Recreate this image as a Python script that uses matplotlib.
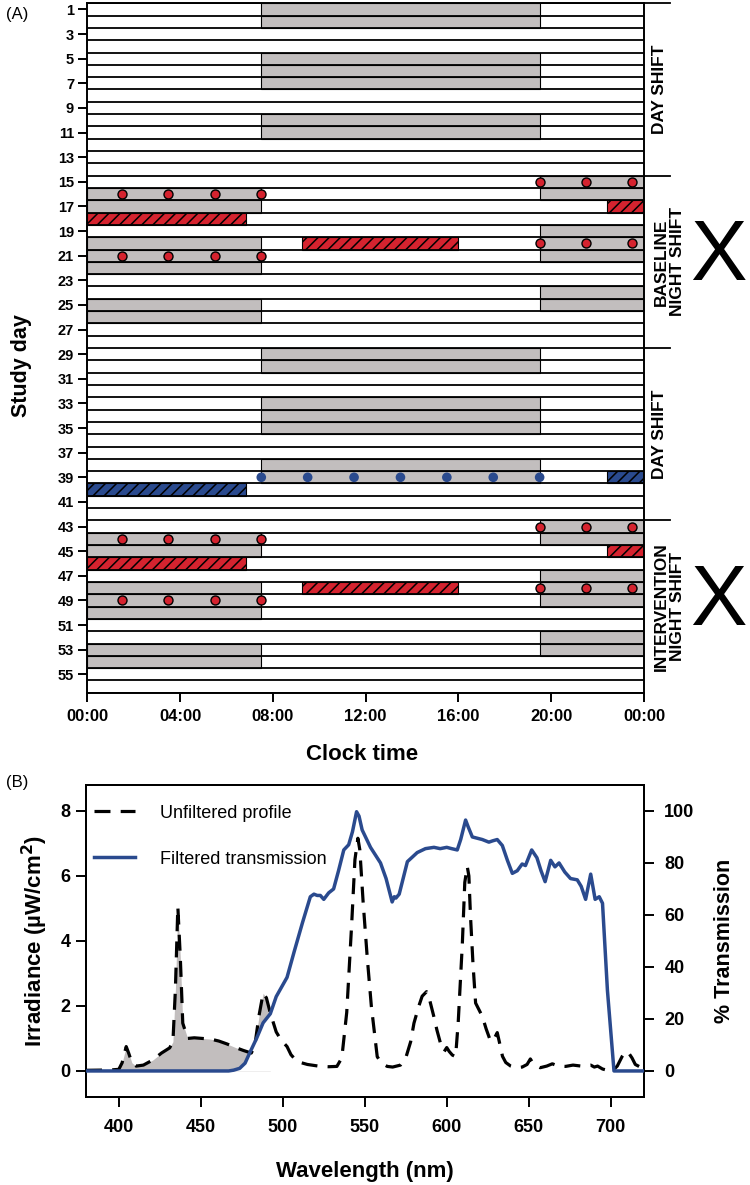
import numpy as np
import matplotlib
matplotlib.use("Agg")
import matplotlib.pyplot as plt
from matplotlib.lines import Line2D

plt.rcParams['font.family'] = ['Liberation Sans', 'DejaVu Sans']
plt.rcParams['hatch.color'] = 'black'
plt.rcParams['hatch.linewidth'] = 1.1

# ---------------- Panel A data ----------------
n_days = 56
day_ticks = list(range(1, 56, 2))
hour_ticks = [0, 4, 8, 12, 16, 20, 24]
hour_labels = ['00:00', '04:00', '08:00', '12:00', '16:00', '20:00', '00:00']

# grey: scheduled shift periods
day_shift_days = [1, 2, 5, 6, 7, 10, 11, 29, 30, 33, 34, 35, 38, 39]
day_shift_span = (7.5, 19.5)
night_evening_days = [15, 16, 19, 20, 21, 24, 25, 43, 44, 47, 48, 49, 52, 53]
night_evening_span = (19.5, 24.0)
night_morning_days = [16, 17, 20, 21, 22, 25, 26, 44, 45, 48, 49, 50, 53, 54]
night_morning_span = (0.0, 7.5)

# red hatched (sleep in baseline / intervention night shift)
red_sleep_days = [17, 18, 20, 45, 46, 48]
red_sleep_start = [22.4, 0.0, 9.25, 22.4, 0.0, 9.25]
red_sleep_end = [24.0, 6.85, 16.0, 24.0, 6.85, 16.0]
# blue hatched
blue_sleep_days = [39, 40]
blue_sleep_start = [22.4, 0.0]
blue_sleep_end = [24.0, 6.85]

# dots (samples)
red_dot_evening_days = [15, 20, 43, 48]
red_dot_evening_hours = [19.5, 21.5, 23.5]
red_dot_morning_days = [16, 21, 44, 49]
red_dot_morning_hours = [1.5, 3.5, 5.5, 7.5]
blue_dot_days = [39]
blue_dot_hours = [7.5, 9.5, 11.5, 13.5, 15.5, 17.5, 19.5]

group_labels = ['DAY SHIFT', 'BASELINE\nNIGHT SHIFT', 'DAY SHIFT', 'INTERVENTION\nNIGHT SHIFT']
group_bounds = [0.5, 14.5, 28.5, 42.5, 56.5]
x_marked_groups = [1, 3]

# ---------------- Panel B data ----------------
unfiltered_wl = [380, 395, 400, 402, 404.5, 406, 408, 410.6, 415, 420.8, 426, 431, 433, 434.5, 436,
                 437.5, 439, 442, 446, 451, 456, 461, 466, 471.7, 476, 480.8, 483, 485.5, 488, 490,
                 492.4, 496, 499, 502.6, 505, 508.7, 515, 523, 528, 533, 536, 539, 542, 544, 545.8,
                 547, 549, 551.5, 554, 557.6, 560, 563.7, 567, 571.8, 575, 578, 580, 583, 585, 587.7,
                 589.5, 592, 594, 597, 598.5, 600, 601.5, 603.4, 605.4, 607, 609.5, 611, 612.5, 613.5,
                 614.5, 616, 617.6, 619.5, 621.7, 624, 626.7, 628.5, 630.8, 632.5, 634, 636, 639, 642,
                 646, 649, 651, 653, 657, 661, 664.4, 668, 672.5, 677, 682, 687.8, 690, 692, 695, 698,
                 701, 704, 707, 709, 711, 713, 715, 718]
unfiltered_irr = [0.02, 0.03, 0.05, 0.25, 0.75, 0.55, 0.25, 0.15, 0.18, 0.34, 0.55, 0.71, 0.9, 2.5, 5.05,
                  3.5, 1.47, 1.0, 1.02, 1.0, 0.98, 0.92, 0.83, 0.71, 0.63, 0.55, 0.8, 1.7, 2.39, 2.25,
                  1.78, 1.2, 0.95, 0.75, 0.5, 0.29, 0.2, 0.14, 0.13, 0.14, 0.4, 1.8, 4.5, 6.5, 7.16,
                  6.8, 5.2, 3.5, 2.0, 0.44, 0.25, 0.14, 0.12, 0.18, 0.4, 0.9, 1.47, 2.0, 2.3, 2.44,
                  2.2, 1.7, 1.26, 0.7, 0.6, 0.72, 0.6, 0.49, 0.44, 1.5, 3.9, 5.8, 6.29, 6.0,
                  4.75, 3.3, 2.09, 1.9, 1.68, 1.3, 0.92, 0.95, 1.18, 0.8, 0.45, 0.26, 0.15, 0.1,
                  0.12, 0.2, 0.37, 0.2, 0.1, 0.15, 0.22, 0.15, 0.14, 0.18, 0.15, 0.18, 0.12, 0.15, 0.06, 0.02,
                  0.0, 0.15, 0.45, 0.6, 0.55, 0.4, 0.2, 0.12]

filtered_wl = [380, 467, 470, 473.7, 477, 479.8, 484, 488, 492.4, 496, 502.6, 507, 512, 516.8, 519, 521,
               522.9, 525, 528, 531, 534, 537.2, 540.2, 542.5, 545, 546.5, 548.4, 553.5, 559.6, 563,
               566.7, 568, 569, 571, 576, 582, 587, 592.2, 596, 600, 603, 606.4, 608.5, 611.5, 613,
               615.6, 621.7, 625.7, 628, 630.8, 633.9, 637, 640, 643, 646, 648, 651.8, 655, 657.5, 660,
               663.4, 666, 668.5, 672, 675.5, 679.6, 682, 684.7, 687.8, 690.5, 693, 695, 698, 702, 720]
filtered_pct = [0, 0, 0.3, 1, 3, 6.9, 12.5, 18.5, 22, 28.6, 36, 46, 57, 67, 68, 67.5,
                67.5, 66, 68.5, 70, 77, 85, 87, 92, 99.7, 98, 92.7, 86, 80, 74,
                65, 67, 66.5, 68, 80.5, 84, 85.5, 86, 85.5, 86, 85.5, 85, 89, 96.5, 94,
                90, 89, 88, 88.5, 89, 86.7, 81, 76, 77, 79.6, 79, 85, 82, 77, 72.8,
                81, 78.5, 80, 76.5, 74, 73.5, 71, 66, 75.7, 66, 67, 64.5, 31, 0, 0]

blocked_limit_nm = 492.4
irr_ticks = [0, 2, 4, 6, 8]
pct_ticks = [0, 20, 40, 60, 80, 100]
wl_ticks = [400, 450, 500, 550, 600, 650, 700]

# ---------------- colours ----------------
GREY = '#c2bebe'
RED = '#d5232f'
BLUE = '#2a4a8e'

fig = plt.figure(figsize=(7.5, 11.85), dpi=100)

# ================= Panel A =================
ax = fig.add_axes([0.1164, 0.4154, 0.7423, 0.5818])
ax.set_xlim(0, 24)
ax.set_ylim(n_days + 0.5, 0.5)

def span_bars(days, start, end, **kw):
    days = np.asarray(days)
    s = np.broadcast_to(np.asarray(start, float), days.shape)
    e = np.broadcast_to(np.asarray(end, float), days.shape)
    ax.barh(days, e - s, left=s, height=1.0, **kw)

span_bars(day_shift_days, day_shift_span[0], day_shift_span[1], color=GREY, edgecolor='black', linewidth=0.8, zorder=1)
span_bars(night_evening_days, night_evening_span[0], night_evening_span[1], color=GREY, edgecolor='black', linewidth=0.8, zorder=1)
span_bars(night_morning_days, night_morning_span[0], night_morning_span[1], color=GREY, edgecolor='black', linewidth=0.8, zorder=1)
span_bars(red_sleep_days, red_sleep_start, red_sleep_end, facecolor=RED, edgecolor='black', hatch='///', linewidth=0.8, zorder=2)
span_bars(blue_sleep_days, blue_sleep_start, blue_sleep_end, facecolor=BLUE, edgecolor='black', hatch='///', linewidth=0.8, zorder=2)

for b in np.arange(0.5, n_days + 1):
    ax.axhline(b, color='black', lw=1.3, zorder=3)

for d in red_dot_evening_days:
    ax.scatter(red_dot_evening_hours, [d] * len(red_dot_evening_hours), s=42, color=RED, edgecolor='black', linewidth=1.0, zorder=5, clip_on=False)
for d in red_dot_morning_days:
    ax.scatter(red_dot_morning_hours, [d] * len(red_dot_morning_hours), s=42, color=RED, edgecolor='black', linewidth=1.0, zorder=5, clip_on=False)
for d in blue_dot_days:
    ax.scatter(blue_dot_hours, [d] * len(blue_dot_hours), s=48, color=BLUE, edgecolor='none', zorder=5, clip_on=False)

ax.set_yticks(day_ticks)
ax.set_yticklabels([str(d) for d in day_ticks], fontsize=10.5, fontweight='bold')
ax.set_xticks(hour_ticks)
ax.set_xticklabels(hour_labels, fontsize=12, fontweight='bold')
ax.tick_params(direction='out', length=6.5, width=1.4, pad=3)
ax.tick_params(axis='x', pad=5)
for sp in ax.spines.values():
    sp.set_linewidth(1.4)
ax.set_xlabel('Clock time', fontsize=16, fontweight='bold')
ax.xaxis.set_label_coords(0.493, -0.074)
ax.set_ylabel('Study day', fontsize=15.5, fontweight='bold')
ax.yaxis.set_label_coords(-0.099, 0.475)

# group brackets and labels
for b in group_bounds[:-1]:
    ax.plot([24, 25.1], [b, b], color='black', lw=1.3, clip_on=False, zorder=6)
for i, lab in enumerate(group_labels):
    yc = (group_bounds[i] + group_bounds[i + 1]) / 2
    xc = 24.65 if '\n' not in lab else 25.1
    ax.text(xc, yc, lab, rotation=90, ha='center', va='center', fontsize=12.5,
            fontweight='bold', linespacing=1.15, clip_on=False)
for gi in x_marked_groups:
    yb = (group_bounds[gi] + group_bounds[gi + 1]) / 2 + 1.5
    ax.text(27.2, yb, 'X', ha='center', va='baseline', fontsize=61, clip_on=False)

fig.text(17 / 750, 1 - 15 / 1185, '(A)', fontsize=12, ha='center', va='center')

# ================= Panel B =================
bx = fig.add_axes([0.1147, 0.0743, 0.7433, 0.2633])
bx.set_xlim(380, 720)
bx.set_ylim(-0.8, 8.8)
wl_u = np.asarray(unfiltered_wl)
irr_u = np.asarray(unfiltered_irr)
bx.fill_between(wl_u, 0, irr_u, where=wl_u <= blocked_limit_nm, color=GREY, linewidth=0, zorder=1)
# filtered transmission expressed on irradiance scale (100 % <-> 8 units) to mask the passed part
wl_f = np.asarray(filtered_wl)
pct_f = np.asarray(filtered_pct)
bx.fill_between(wl_f, 0, pct_f * 8 / 100, where=wl_f <= 500, color='white', linewidth=0, zorder=1.5)
bx.plot(wl_u, irr_u, color='black', lw=2.3, linestyle=(0, (5.0, 3.2)), zorder=3)

bx2 = bx.twinx()
bx2.set_ylim(-10, 110)
bx2.plot(wl_f, pct_f, color=BLUE, lw=2.5, zorder=4)

bx.set_xticks(wl_ticks)
bx.set_xticklabels([str(w) for w in wl_ticks], fontsize=13, fontweight='bold')
bx.set_yticks(irr_ticks)
bx.set_yticklabels([str(v) for v in irr_ticks], fontsize=13, fontweight='bold')
bx2.set_yticks(pct_ticks)
bx2.set_yticklabels([str(v) for v in pct_ticks], fontsize=13, fontweight='bold')
for a in (bx, bx2):
    a.tick_params(direction='out', length=7, width=1.4, pad=4)
    for sp in a.spines.values():
        sp.set_linewidth(1.4)
bx.tick_params(axis='x', pad=9)
bx2.tick_params(axis='y', pad=8)
bx.set_xlabel('Wavelength (nm)', fontsize=16, fontweight='bold', labelpad=18)
bx.set_ylabel('Irradiance (\u00b5W/cm$^{\\mathbf{2}}$)', fontsize=16, fontweight='bold', labelpad=8)
bx2.set_ylabel('% Transmission', fontsize=15.5, fontweight='bold', labelpad=14)

handles = [Line2D([], [], color='black', lw=2.3, linestyle=(0, (5.0, 3.2))),
           Line2D([], [], color=BLUE, lw=2.5)]
bx.legend(handles, ['Unfiltered profile', 'Filtered transmission'], loc='upper left',
          bbox_to_anchor=(-0.022, 1.0),
          frameon=False, fontsize=13, handlelength=2.3, handletextpad=1.4,
          labelspacing=1.6, borderaxespad=0.2, borderpad=0.9)

fig.text(17 / 750, 1 - 783 / 1185, '(B)', fontsize=12, ha='center', va='center')

fig.savefig('out.png', dpi=100)
